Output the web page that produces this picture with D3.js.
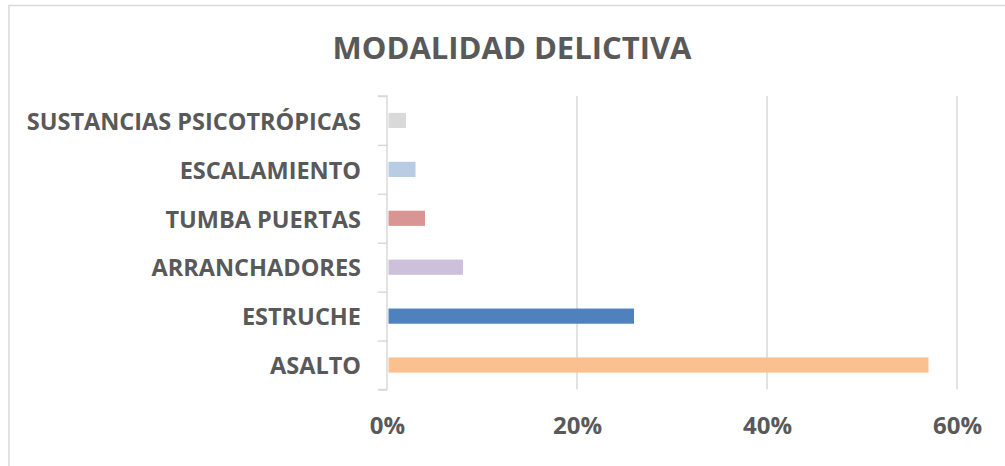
<!DOCTYPE html>
<html>
<head>
<meta charset="utf-8">
<script src="https://cdn.jsdelivr.net/npm/d3@7"></script>
<style>
  html, body { margin: 0; padding: 0; background: #fff; }
  svg { display: block; }
  text { font-family: "Open Sans", sans-serif; font-weight: bold; fill: #595959; }
</style>
</head>
<body>
<script>
const categories = ["SUSTANCIAS PSICOTRÓPICAS", "ESCALAMIENTO", "TUMBA PUERTAS", "ARRANCHADORES", "ESTRUCHE", "ASALTO"];
const values = [0.02, 0.03, 0.04, 0.08, 0.26, 0.57];
const colors = ["#d9d9d9", "#b8cce4", "#d99594", "#ccc0da", "#4f81bd", "#fac090"];
const tickValues = [0, 0.2, 0.4, 0.6];
const title = "MODALIDAD DELICTIVA";

const W = 1005, H = 466;
const svg = d3.select("body").append("svg").attr("width", W).attr("height", H);

svg.append("rect").attr("x", 9).attr("y", 5.5).attr("width", W).attr("height", H)
  .attr("fill", "none").attr("stroke", "#d9d9d9").attr("stroke-width", 1.5);

const plot = { left: 387, right: 957, top: 96, bottom: 389.5 };
const x = d3.scaleLinear().domain([0, 0.6]).range([plot.left, plot.right]);
const y = d3.scaleBand().domain(categories).range([plot.top, plot.bottom]).paddingInner(0.69).paddingOuter(0.345);

// gridlines
svg.append("g").selectAll("line").data(tickValues.slice(1)).join("line")
  .attr("x1", d => x(d)).attr("x2", d => x(d))
  .attr("y1", plot.top).attr("y2", plot.bottom)
  .attr("stroke", "#d9d9d9").attr("stroke-width", 1.5);

// bars
svg.append("g").selectAll("rect").data(categories).join("rect")
  .attr("x", x(0) + 1.5)
  .attr("y", d => y(d))
  .attr("width", (d, i) => x(values[i]) - x(0) - 1.5)
  .attr("height", y.bandwidth())
  .attr("fill", (d, i) => colors[i]);

// y axis line and ticks
const yAxis = d3.axisLeft(d3.scaleLinear().domain([0, categories.length]).range([plot.bottom, plot.top]))
  .ticks(categories.length).tickSize(9).tickFormat("");
const ga = svg.append("g").attr("transform", `translate(${plot.left},0)`).call(yAxis);
ga.selectAll("path,line").attr("stroke", "#d9d9d9").attr("stroke-width", 1.5);
ga.select("path").attr("d", `M-9,${plot.bottom}H0V${plot.top}H-9`);

// category labels
svg.append("g").selectAll("text").data(categories).join("text")
  .attr("x", 361)
  .attr("y", d => y(d) + y.bandwidth() / 2 + 1)
  .attr("dy", "0.35em")
  .attr("text-anchor", "end")
  .attr("font-size", 23.5)
  .text(d => d);

// x tick labels
const xAxis = d3.axisBottom(x).tickValues(tickValues).tickFormat(d3.format(".0%")).tickSize(0).tickPadding(0);
const gx = svg.append("g").attr("transform", `translate(0,${426})`).call(xAxis);
gx.select(".domain").remove();
gx.selectAll("text").attr("font-size", 24).attr("fill", "#595959")
  .attr("font-family", "'Open Sans', sans-serif").attr("font-weight", "bold").attr("dy", "0.35em");

svg.append("text").attr("x", 512).attr("y", 48).attr("dy", "0.35em")
  .attr("text-anchor", "middle").attr("font-size", 31).text(title);
</script>
</body>
</html>
